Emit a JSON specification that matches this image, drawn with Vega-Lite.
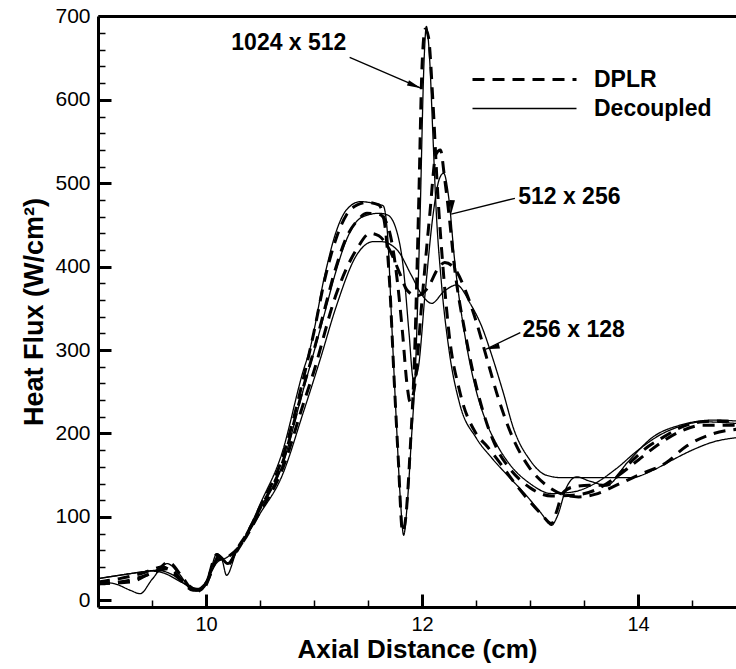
{
  "$schema": "https://vega.github.io/schema/vega-lite/v6.json",
  "width": 638,
  "height": 591,
  "autosize": {"type": "none"},
  "padding": {"left": 98, "top": 16, "right": 0, "bottom": 62},
  "background": "white",
  "config": {
    "view": {"stroke": null},
    "font": "Liberation Sans",
    "axis": {"domainColor": "black", "tickColor": "black", "labelColor": "black", "titleColor": "black", "grid": false, "labelFont": "Liberation Sans", "titleFont": "Liberation Sans"}
  },
  "datasets": {
    "curves": [
      {"grid": "1024 x 512", "method": "DPLR", "x": 9.0, "y": 20}, {"grid": "1024 x 512", "method": "DPLR", "x": 9.2, "y": 22}, {"grid": "1024 x 512", "method": "DPLR", "x": 9.4, "y": 28}, {"grid": "1024 x 512", "method": "DPLR", "x": 9.55, "y": 36}, {"grid": "1024 x 512", "method": "DPLR", "x": 9.65, "y": 46}, {"grid": "1024 x 512", "method": "DPLR", "x": 9.78, "y": 28}, {"grid": "1024 x 512", "method": "DPLR", "x": 9.9, "y": 10}, {"grid": "1024 x 512", "method": "DPLR", "x": 10.0, "y": 20}, {"grid": "1024 x 512", "method": "DPLR", "x": 10.1, "y": 55}, {"grid": "1024 x 512", "method": "DPLR", "x": 10.15, "y": 50}, {"grid": "1024 x 512", "method": "DPLR", "x": 10.2, "y": 42}, {"grid": "1024 x 512", "method": "DPLR", "x": 10.28, "y": 60}, {"grid": "1024 x 512", "method": "DPLR", "x": 10.4, "y": 85}, {"grid": "1024 x 512", "method": "DPLR", "x": 10.5, "y": 112}, {"grid": "1024 x 512", "method": "DPLR", "x": 10.7, "y": 168}, {"grid": "1024 x 512", "method": "DPLR", "x": 10.9, "y": 265}, {"grid": "1024 x 512", "method": "DPLR", "x": 11.0, "y": 322}, {"grid": "1024 x 512", "method": "DPLR", "x": 11.1, "y": 385}, {"grid": "1024 x 512", "method": "DPLR", "x": 11.2, "y": 432}, {"grid": "1024 x 512", "method": "DPLR", "x": 11.3, "y": 462}, {"grid": "1024 x 512", "method": "DPLR", "x": 11.4, "y": 474}, {"grid": "1024 x 512", "method": "DPLR", "x": 11.5, "y": 477}, {"grid": "1024 x 512", "method": "DPLR", "x": 11.6, "y": 474}, {"grid": "1024 x 512", "method": "DPLR", "x": 11.65, "y": 455}, {"grid": "1024 x 512", "method": "DPLR", "x": 11.7, "y": 380}, {"grid": "1024 x 512", "method": "DPLR", "x": 11.74, "y": 270}, {"grid": "1024 x 512", "method": "DPLR", "x": 11.78, "y": 170}, {"grid": "1024 x 512", "method": "DPLR", "x": 11.82, "y": 82}, {"grid": "1024 x 512", "method": "DPLR", "x": 11.85, "y": 100}, {"grid": "1024 x 512", "method": "DPLR", "x": 11.89, "y": 180}, {"grid": "1024 x 512", "method": "DPLR", "x": 11.93, "y": 290}, {"grid": "1024 x 512", "method": "DPLR", "x": 11.97, "y": 480}, {"grid": "1024 x 512", "method": "DPLR", "x": 12.0, "y": 640}, {"grid": "1024 x 512", "method": "DPLR", "x": 12.03, "y": 685}, {"grid": "1024 x 512", "method": "DPLR", "x": 12.06, "y": 675}, {"grid": "1024 x 512", "method": "DPLR", "x": 12.1, "y": 600}, {"grid": "1024 x 512", "method": "DPLR", "x": 12.14, "y": 500}, {"grid": "1024 x 512", "method": "DPLR", "x": 12.2, "y": 390}, {"grid": "1024 x 512", "method": "DPLR", "x": 12.25, "y": 320}, {"grid": "1024 x 512", "method": "DPLR", "x": 12.35, "y": 250}, {"grid": "1024 x 512", "method": "DPLR", "x": 12.5, "y": 200}, {"grid": "1024 x 512", "method": "DPLR", "x": 12.6, "y": 185}, {"grid": "1024 x 512", "method": "DPLR", "x": 12.72, "y": 165}, {"grid": "1024 x 512", "method": "DPLR", "x": 12.85, "y": 142}, {"grid": "1024 x 512", "method": "DPLR", "x": 13.0, "y": 118}, {"grid": "1024 x 512", "method": "DPLR", "x": 13.1, "y": 104}, {"grid": "1024 x 512", "method": "DPLR", "x": 13.2, "y": 92}, {"grid": "1024 x 512", "method": "DPLR", "x": 13.25, "y": 108}, {"grid": "1024 x 512", "method": "DPLR", "x": 13.3, "y": 128}, {"grid": "1024 x 512", "method": "DPLR", "x": 13.4, "y": 136}, {"grid": "1024 x 512", "method": "DPLR", "x": 13.55, "y": 138}, {"grid": "1024 x 512", "method": "DPLR", "x": 13.71, "y": 138}, {"grid": "1024 x 512", "method": "DPLR", "x": 13.85, "y": 155}, {"grid": "1024 x 512", "method": "DPLR", "x": 13.95, "y": 168}, {"grid": "1024 x 512", "method": "DPLR", "x": 14.1, "y": 185}, {"grid": "1024 x 512", "method": "DPLR", "x": 14.2, "y": 193}, {"grid": "1024 x 512", "method": "DPLR", "x": 14.45, "y": 210}, {"grid": "1024 x 512", "method": "DPLR", "x": 14.6, "y": 214}, {"grid": "1024 x 512", "method": "DPLR", "x": 14.76, "y": 215}, {"grid": "1024 x 512", "method": "DPLR", "x": 14.91, "y": 214},

      {"grid": "1024 x 512", "method": "Decoupled", "x": 9.0, "y": 22}, {"grid": "1024 x 512", "method": "Decoupled", "x": 9.15, "y": 20}, {"grid": "1024 x 512", "method": "Decoupled", "x": 9.3, "y": 12}, {"grid": "1024 x 512", "method": "Decoupled", "x": 9.39, "y": 8}, {"grid": "1024 x 512", "method": "Decoupled", "x": 9.5, "y": 25}, {"grid": "1024 x 512", "method": "Decoupled", "x": 9.64, "y": 44}, {"grid": "1024 x 512", "method": "Decoupled", "x": 9.75, "y": 32}, {"grid": "1024 x 512", "method": "Decoupled", "x": 9.88, "y": 12}, {"grid": "1024 x 512", "method": "Decoupled", "x": 9.95, "y": 12}, {"grid": "1024 x 512", "method": "Decoupled", "x": 10.05, "y": 40}, {"grid": "1024 x 512", "method": "Decoupled", "x": 10.1, "y": 56}, {"grid": "1024 x 512", "method": "Decoupled", "x": 10.15, "y": 48}, {"grid": "1024 x 512", "method": "Decoupled", "x": 10.19, "y": 30}, {"grid": "1024 x 512", "method": "Decoupled", "x": 10.28, "y": 58}, {"grid": "1024 x 512", "method": "Decoupled", "x": 10.4, "y": 86}, {"grid": "1024 x 512", "method": "Decoupled", "x": 10.5, "y": 115}, {"grid": "1024 x 512", "method": "Decoupled", "x": 10.7, "y": 175}, {"grid": "1024 x 512", "method": "Decoupled", "x": 10.9, "y": 275}, {"grid": "1024 x 512", "method": "Decoupled", "x": 10.96, "y": 300}, {"grid": "1024 x 512", "method": "Decoupled", "x": 11.1, "y": 390}, {"grid": "1024 x 512", "method": "Decoupled", "x": 11.2, "y": 440}, {"grid": "1024 x 512", "method": "Decoupled", "x": 11.3, "y": 468}, {"grid": "1024 x 512", "method": "Decoupled", "x": 11.43, "y": 478}, {"grid": "1024 x 512", "method": "Decoupled", "x": 11.55, "y": 476}, {"grid": "1024 x 512", "method": "Decoupled", "x": 11.64, "y": 473}, {"grid": "1024 x 512", "method": "Decoupled", "x": 11.68, "y": 440}, {"grid": "1024 x 512", "method": "Decoupled", "x": 11.72, "y": 330}, {"grid": "1024 x 512", "method": "Decoupled", "x": 11.76, "y": 220}, {"grid": "1024 x 512", "method": "Decoupled", "x": 11.8, "y": 120}, {"grid": "1024 x 512", "method": "Decoupled", "x": 11.83, "y": 78}, {"grid": "1024 x 512", "method": "Decoupled", "x": 11.86, "y": 110}, {"grid": "1024 x 512", "method": "Decoupled", "x": 11.9, "y": 190}, {"grid": "1024 x 512", "method": "Decoupled", "x": 11.94, "y": 280}, {"grid": "1024 x 512", "method": "Decoupled", "x": 11.98, "y": 450}, {"grid": "1024 x 512", "method": "Decoupled", "x": 12.02, "y": 650}, {"grid": "1024 x 512", "method": "Decoupled", "x": 12.04, "y": 688}, {"grid": "1024 x 512", "method": "Decoupled", "x": 12.07, "y": 650}, {"grid": "1024 x 512", "method": "Decoupled", "x": 12.1, "y": 560}, {"grid": "1024 x 512", "method": "Decoupled", "x": 12.13, "y": 470}, {"grid": "1024 x 512", "method": "Decoupled", "x": 12.18, "y": 380}, {"grid": "1024 x 512", "method": "Decoupled", "x": 12.25, "y": 300}, {"grid": "1024 x 512", "method": "Decoupled", "x": 12.35, "y": 235}, {"grid": "1024 x 512", "method": "Decoupled", "x": 12.5, "y": 195}, {"grid": "1024 x 512", "method": "Decoupled", "x": 12.65, "y": 170}, {"grid": "1024 x 512", "method": "Decoupled", "x": 12.79, "y": 150}, {"grid": "1024 x 512", "method": "Decoupled", "x": 12.95, "y": 128}, {"grid": "1024 x 512", "method": "Decoupled", "x": 13.1, "y": 105}, {"grid": "1024 x 512", "method": "Decoupled", "x": 13.2, "y": 90}, {"grid": "1024 x 512", "method": "Decoupled", "x": 13.25, "y": 100}, {"grid": "1024 x 512", "method": "Decoupled", "x": 13.34, "y": 136}, {"grid": "1024 x 512", "method": "Decoupled", "x": 13.43, "y": 148}, {"grid": "1024 x 512", "method": "Decoupled", "x": 13.55, "y": 143}, {"grid": "1024 x 512", "method": "Decoupled", "x": 13.71, "y": 138}, {"grid": "1024 x 512", "method": "Decoupled", "x": 13.9, "y": 165}, {"grid": "1024 x 512", "method": "Decoupled", "x": 14.14, "y": 196}, {"grid": "1024 x 512", "method": "Decoupled", "x": 14.39, "y": 210}, {"grid": "1024 x 512", "method": "Decoupled", "x": 14.7, "y": 216}, {"grid": "1024 x 512", "method": "Decoupled", "x": 14.91, "y": 215},

      {"grid": "512 x 256", "method": "DPLR", "x": 9.0, "y": 22}, {"grid": "512 x 256", "method": "DPLR", "x": 9.2, "y": 26}, {"grid": "512 x 256", "method": "DPLR", "x": 9.4, "y": 32}, {"grid": "512 x 256", "method": "DPLR", "x": 9.6, "y": 40}, {"grid": "512 x 256", "method": "DPLR", "x": 9.75, "y": 26}, {"grid": "512 x 256", "method": "DPLR", "x": 9.88, "y": 12}, {"grid": "512 x 256", "method": "DPLR", "x": 9.98, "y": 15}, {"grid": "512 x 256", "method": "DPLR", "x": 10.08, "y": 45}, {"grid": "512 x 256", "method": "DPLR", "x": 10.12, "y": 54}, {"grid": "512 x 256", "method": "DPLR", "x": 10.2, "y": 44}, {"grid": "512 x 256", "method": "DPLR", "x": 10.3, "y": 62}, {"grid": "512 x 256", "method": "DPLR", "x": 10.5, "y": 110}, {"grid": "512 x 256", "method": "DPLR", "x": 10.7, "y": 162}, {"grid": "512 x 256", "method": "DPLR", "x": 10.9, "y": 255}, {"grid": "512 x 256", "method": "DPLR", "x": 11.0, "y": 300}, {"grid": "512 x 256", "method": "DPLR", "x": 11.1, "y": 350}, {"grid": "512 x 256", "method": "DPLR", "x": 11.2, "y": 398}, {"grid": "512 x 256", "method": "DPLR", "x": 11.3, "y": 435}, {"grid": "512 x 256", "method": "DPLR", "x": 11.4, "y": 455}, {"grid": "512 x 256", "method": "DPLR", "x": 11.49, "y": 464}, {"grid": "512 x 256", "method": "DPLR", "x": 11.6, "y": 463}, {"grid": "512 x 256", "method": "DPLR", "x": 11.68, "y": 450}, {"grid": "512 x 256", "method": "DPLR", "x": 11.75, "y": 405}, {"grid": "512 x 256", "method": "DPLR", "x": 11.82, "y": 320}, {"grid": "512 x 256", "method": "DPLR", "x": 11.86, "y": 260}, {"grid": "512 x 256", "method": "DPLR", "x": 11.89, "y": 238}, {"grid": "512 x 256", "method": "DPLR", "x": 11.93, "y": 255}, {"grid": "512 x 256", "method": "DPLR", "x": 12.0, "y": 360}, {"grid": "512 x 256", "method": "DPLR", "x": 12.07, "y": 460}, {"grid": "512 x 256", "method": "DPLR", "x": 12.13, "y": 535}, {"grid": "512 x 256", "method": "DPLR", "x": 12.17, "y": 540}, {"grid": "512 x 256", "method": "DPLR", "x": 12.21, "y": 505}, {"grid": "512 x 256", "method": "DPLR", "x": 12.25, "y": 462}, {"grid": "512 x 256", "method": "DPLR", "x": 12.3, "y": 400}, {"grid": "512 x 256", "method": "DPLR", "x": 12.4, "y": 320}, {"grid": "512 x 256", "method": "DPLR", "x": 12.5, "y": 258}, {"grid": "512 x 256", "method": "DPLR", "x": 12.6, "y": 212}, {"grid": "512 x 256", "method": "DPLR", "x": 12.7, "y": 180}, {"grid": "512 x 256", "method": "DPLR", "x": 12.8, "y": 160}, {"grid": "512 x 256", "method": "DPLR", "x": 13.0, "y": 135}, {"grid": "512 x 256", "method": "DPLR", "x": 13.2, "y": 125}, {"grid": "512 x 256", "method": "DPLR", "x": 13.4, "y": 126}, {"grid": "512 x 256", "method": "DPLR", "x": 13.6, "y": 132}, {"grid": "512 x 256", "method": "DPLR", "x": 13.8, "y": 148}, {"grid": "512 x 256", "method": "DPLR", "x": 14.0, "y": 168}, {"grid": "512 x 256", "method": "DPLR", "x": 14.2, "y": 188}, {"grid": "512 x 256", "method": "DPLR", "x": 14.4, "y": 203}, {"grid": "512 x 256", "method": "DPLR", "x": 14.6, "y": 210}, {"grid": "512 x 256", "method": "DPLR", "x": 14.91, "y": 210},

      {"grid": "512 x 256", "method": "Decoupled", "x": 9.0, "y": 26}, {"grid": "512 x 256", "method": "Decoupled", "x": 9.2, "y": 30}, {"grid": "512 x 256", "method": "Decoupled", "x": 9.4, "y": 34}, {"grid": "512 x 256", "method": "Decoupled", "x": 9.55, "y": 36}, {"grid": "512 x 256", "method": "Decoupled", "x": 9.7, "y": 30}, {"grid": "512 x 256", "method": "Decoupled", "x": 9.85, "y": 16}, {"grid": "512 x 256", "method": "Decoupled", "x": 9.95, "y": 14}, {"grid": "512 x 256", "method": "Decoupled", "x": 10.05, "y": 35}, {"grid": "512 x 256", "method": "Decoupled", "x": 10.12, "y": 52}, {"grid": "512 x 256", "method": "Decoupled", "x": 10.2, "y": 45}, {"grid": "512 x 256", "method": "Decoupled", "x": 10.3, "y": 62}, {"grid": "512 x 256", "method": "Decoupled", "x": 10.5, "y": 110}, {"grid": "512 x 256", "method": "Decoupled", "x": 10.7, "y": 160}, {"grid": "512 x 256", "method": "Decoupled", "x": 10.9, "y": 252}, {"grid": "512 x 256", "method": "Decoupled", "x": 11.0, "y": 298}, {"grid": "512 x 256", "method": "Decoupled", "x": 11.1, "y": 345}, {"grid": "512 x 256", "method": "Decoupled", "x": 11.2, "y": 393}, {"grid": "512 x 256", "method": "Decoupled", "x": 11.3, "y": 432}, {"grid": "512 x 256", "method": "Decoupled", "x": 11.4, "y": 455}, {"grid": "512 x 256", "method": "Decoupled", "x": 11.5, "y": 462}, {"grid": "512 x 256", "method": "Decoupled", "x": 11.6, "y": 464}, {"grid": "512 x 256", "method": "Decoupled", "x": 11.68, "y": 462}, {"grid": "512 x 256", "method": "Decoupled", "x": 11.76, "y": 445}, {"grid": "512 x 256", "method": "Decoupled", "x": 11.83, "y": 395}, {"grid": "512 x 256", "method": "Decoupled", "x": 11.88, "y": 320}, {"grid": "512 x 256", "method": "Decoupled", "x": 11.92, "y": 265}, {"grid": "512 x 256", "method": "Decoupled", "x": 11.96, "y": 275}, {"grid": "512 x 256", "method": "Decoupled", "x": 12.03, "y": 370}, {"grid": "512 x 256", "method": "Decoupled", "x": 12.1, "y": 460}, {"grid": "512 x 256", "method": "Decoupled", "x": 12.16, "y": 505}, {"grid": "512 x 256", "method": "Decoupled", "x": 12.2, "y": 512}, {"grid": "512 x 256", "method": "Decoupled", "x": 12.25, "y": 480}, {"grid": "512 x 256", "method": "Decoupled", "x": 12.3, "y": 410}, {"grid": "512 x 256", "method": "Decoupled", "x": 12.4, "y": 315}, {"grid": "512 x 256", "method": "Decoupled", "x": 12.5, "y": 252}, {"grid": "512 x 256", "method": "Decoupled", "x": 12.6, "y": 212}, {"grid": "512 x 256", "method": "Decoupled", "x": 12.7, "y": 185}, {"grid": "512 x 256", "method": "Decoupled", "x": 12.8, "y": 165}, {"grid": "512 x 256", "method": "Decoupled", "x": 13.0, "y": 140}, {"grid": "512 x 256", "method": "Decoupled", "x": 13.2, "y": 128}, {"grid": "512 x 256", "method": "Decoupled", "x": 13.4, "y": 130}, {"grid": "512 x 256", "method": "Decoupled", "x": 13.6, "y": 140}, {"grid": "512 x 256", "method": "Decoupled", "x": 13.8, "y": 158}, {"grid": "512 x 256", "method": "Decoupled", "x": 14.0, "y": 180}, {"grid": "512 x 256", "method": "Decoupled", "x": 14.2, "y": 198}, {"grid": "512 x 256", "method": "Decoupled", "x": 14.4, "y": 209}, {"grid": "512 x 256", "method": "Decoupled", "x": 14.6, "y": 214}, {"grid": "512 x 256", "method": "Decoupled", "x": 14.91, "y": 212},

      {"grid": "256 x 128", "method": "DPLR", "x": 9.0, "y": 20}, {"grid": "256 x 128", "method": "DPLR", "x": 9.3, "y": 22}, {"grid": "256 x 128", "method": "DPLR", "x": 9.5, "y": 33}, {"grid": "256 x 128", "method": "DPLR", "x": 9.65, "y": 38}, {"grid": "256 x 128", "method": "DPLR", "x": 9.8, "y": 22}, {"grid": "256 x 128", "method": "DPLR", "x": 9.92, "y": 12}, {"grid": "256 x 128", "method": "DPLR", "x": 10.02, "y": 25}, {"grid": "256 x 128", "method": "DPLR", "x": 10.1, "y": 48}, {"grid": "256 x 128", "method": "DPLR", "x": 10.2, "y": 52}, {"grid": "256 x 128", "method": "DPLR", "x": 10.3, "y": 63}, {"grid": "256 x 128", "method": "DPLR", "x": 10.5, "y": 106}, {"grid": "256 x 128", "method": "DPLR", "x": 10.7, "y": 155}, {"grid": "256 x 128", "method": "DPLR", "x": 10.9, "y": 235}, {"grid": "256 x 128", "method": "DPLR", "x": 11.0, "y": 275}, {"grid": "256 x 128", "method": "DPLR", "x": 11.2, "y": 365}, {"grid": "256 x 128", "method": "DPLR", "x": 11.4, "y": 422}, {"grid": "256 x 128", "method": "DPLR", "x": 11.52, "y": 440}, {"grid": "256 x 128", "method": "DPLR", "x": 11.6, "y": 437}, {"grid": "256 x 128", "method": "DPLR", "x": 11.7, "y": 420}, {"grid": "256 x 128", "method": "DPLR", "x": 11.8, "y": 390}, {"grid": "256 x 128", "method": "DPLR", "x": 11.86, "y": 372}, {"grid": "256 x 128", "method": "DPLR", "x": 11.95, "y": 365}, {"grid": "256 x 128", "method": "DPLR", "x": 12.05, "y": 374}, {"grid": "256 x 128", "method": "DPLR", "x": 12.15, "y": 398}, {"grid": "256 x 128", "method": "DPLR", "x": 12.21, "y": 405}, {"grid": "256 x 128", "method": "DPLR", "x": 12.3, "y": 398}, {"grid": "256 x 128", "method": "DPLR", "x": 12.4, "y": 372}, {"grid": "256 x 128", "method": "DPLR", "x": 12.5, "y": 335}, {"grid": "256 x 128", "method": "DPLR", "x": 12.6, "y": 290}, {"grid": "256 x 128", "method": "DPLR", "x": 12.7, "y": 245}, {"grid": "256 x 128", "method": "DPLR", "x": 12.85, "y": 192}, {"grid": "256 x 128", "method": "DPLR", "x": 13.0, "y": 158}, {"grid": "256 x 128", "method": "DPLR", "x": 13.15, "y": 138}, {"grid": "256 x 128", "method": "DPLR", "x": 13.3, "y": 127}, {"grid": "256 x 128", "method": "DPLR", "x": 13.45, "y": 124}, {"grid": "256 x 128", "method": "DPLR", "x": 13.6, "y": 127}, {"grid": "256 x 128", "method": "DPLR", "x": 13.8, "y": 138}, {"grid": "256 x 128", "method": "DPLR", "x": 14.0, "y": 150}, {"grid": "256 x 128", "method": "DPLR", "x": 14.26, "y": 165}, {"grid": "256 x 128", "method": "DPLR", "x": 14.45, "y": 185}, {"grid": "256 x 128", "method": "DPLR", "x": 14.7, "y": 200}, {"grid": "256 x 128", "method": "DPLR", "x": 14.91, "y": 205},

      {"grid": "256 x 128", "method": "Decoupled", "x": 9.0, "y": 26}, {"grid": "256 x 128", "method": "Decoupled", "x": 9.3, "y": 32}, {"grid": "256 x 128", "method": "Decoupled", "x": 9.5, "y": 35}, {"grid": "256 x 128", "method": "Decoupled", "x": 9.6, "y": 33}, {"grid": "256 x 128", "method": "Decoupled", "x": 9.8, "y": 20}, {"grid": "256 x 128", "method": "Decoupled", "x": 9.92, "y": 14}, {"grid": "256 x 128", "method": "Decoupled", "x": 10.0, "y": 22}, {"grid": "256 x 128", "method": "Decoupled", "x": 10.1, "y": 45}, {"grid": "256 x 128", "method": "Decoupled", "x": 10.2, "y": 52}, {"grid": "256 x 128", "method": "Decoupled", "x": 10.3, "y": 64}, {"grid": "256 x 128", "method": "Decoupled", "x": 10.5, "y": 104}, {"grid": "256 x 128", "method": "Decoupled", "x": 10.7, "y": 148}, {"grid": "256 x 128", "method": "Decoupled", "x": 10.9, "y": 225}, {"grid": "256 x 128", "method": "Decoupled", "x": 11.06, "y": 290}, {"grid": "256 x 128", "method": "Decoupled", "x": 11.2, "y": 350}, {"grid": "256 x 128", "method": "Decoupled", "x": 11.4, "y": 415}, {"grid": "256 x 128", "method": "Decoupled", "x": 11.55, "y": 430}, {"grid": "256 x 128", "method": "Decoupled", "x": 11.62, "y": 430}, {"grid": "256 x 128", "method": "Decoupled", "x": 11.77, "y": 420}, {"grid": "256 x 128", "method": "Decoupled", "x": 11.9, "y": 390}, {"grid": "256 x 128", "method": "Decoupled", "x": 12.0, "y": 366}, {"grid": "256 x 128", "method": "Decoupled", "x": 12.09, "y": 356}, {"grid": "256 x 128", "method": "Decoupled", "x": 12.2, "y": 370}, {"grid": "256 x 128", "method": "Decoupled", "x": 12.32, "y": 378}, {"grid": "256 x 128", "method": "Decoupled", "x": 12.45, "y": 355}, {"grid": "256 x 128", "method": "Decoupled", "x": 12.56, "y": 326}, {"grid": "256 x 128", "method": "Decoupled", "x": 12.63, "y": 300}, {"grid": "256 x 128", "method": "Decoupled", "x": 12.75, "y": 250}, {"grid": "256 x 128", "method": "Decoupled", "x": 12.85, "y": 205}, {"grid": "256 x 128", "method": "Decoupled", "x": 13.0, "y": 168}, {"grid": "256 x 128", "method": "Decoupled", "x": 13.15, "y": 150}, {"grid": "256 x 128", "method": "Decoupled", "x": 13.3, "y": 147}, {"grid": "256 x 128", "method": "Decoupled", "x": 13.6, "y": 147}, {"grid": "256 x 128", "method": "Decoupled", "x": 13.93, "y": 147}, {"grid": "256 x 128", "method": "Decoupled", "x": 14.14, "y": 156}, {"grid": "256 x 128", "method": "Decoupled", "x": 14.3, "y": 167}, {"grid": "256 x 128", "method": "Decoupled", "x": 14.5, "y": 180}, {"grid": "256 x 128", "method": "Decoupled", "x": 14.7, "y": 190}, {"grid": "256 x 128", "method": "Decoupled", "x": 14.91, "y": 195}
    ],
    "notes": [
      {"label": "1024 x 512", "side": "left", "textX": 11.3, "textY": 668, "tailX": 11.33, "tailY": 651, "tipX": 11.99, "tipY": 614},
      {"label": "512 x 256", "side": "right", "textX": 12.89, "textY": 483, "tailX": 12.86, "tailY": 482, "tipX": 12.27, "tipY": 463},
      {"label": "256 x 128", "side": "right", "textX": 12.93, "textY": 324, "tailX": 12.91, "tailY": 321, "tipX": 12.59, "tipY": 301}
    ]
  },
  "layer": [
    {
      "data": {"name": "curves"},
      "mark": {"type": "line", "interpolate": "monotone", "color": "black", "clip": true},
      "encoding": {
        "x": {"field": "x", "type": "quantitative", "scale": {"domain": [9, 14.907], "nice": false, "zero": false},
          "axis": {"orient": "bottom", "values": [10, 12, 14], "tickSize": -13, "tickWidth": 3, "domainWidth": 3, "labelFontSize": 20, "labelPadding": 20, "title": "Axial Distance (cm)", "titleFontSize": 26, "titleFontWeight": "bold", "titlePadding": 2}},
        "y": {"field": "y", "type": "quantitative", "scale": {"domain": [-8, 700.5], "nice": false, "zero": false},
          "axis": {"orient": "left", "values": [0, 100, 200, 300, 400, 500, 600, 700], "tickSize": -13, "tickWidth": 3, "domainWidth": 3, "labelFontSize": 21, "labelPadding": 21, "title": "Heat Flux (W/cm²)", "titleFontSize": 27, "titleFontWeight": "bold", "titlePadding": 6}},
        "detail": {"field": "grid"},
        "strokeDash": {"field": "method", "type": "nominal", "scale": {"domain": ["DPLR", "Decoupled"], "range": [[12, 8], [1, 0]]},
          "legend": {"title": null, "orient": "none", "legendX": 415, "legendY": 52, "padding": 0, "rowPadding": 5, "symbolType": "M-10.4,0L10.4,0", "symbolSize": 100, "symbolStrokeColor": "black", "symbolFillColor": "transparent", "labelFontSize": 23, "labelFontWeight": "bold", "labelFont": "Liberation Sans", "labelColor": "black", "labelOffset": 58}},
        "strokeWidth": {"field": "method", "type": "nominal", "scale": {"domain": ["DPLR", "Decoupled"], "range": [3, 1.3]},
          "legend": {"title": null, "orient": "none", "legendX": 415, "legendY": 52, "padding": 0, "rowPadding": 5, "symbolType": "M-10.4,0L10.4,0", "symbolSize": 100, "symbolStrokeColor": "black", "symbolFillColor": "transparent", "labelFontSize": 23, "labelFontWeight": "bold", "labelFont": "Liberation Sans", "labelColor": "black", "labelOffset": 58}}
      }
    },
    {
      "data": {"name": "notes"},
      "transform": [{"filter": "datum.side === 'left'"}],
      "mark": {"type": "text", "align": "right", "baseline": "middle", "fontSize": 23, "fontWeight": "bold", "font": "Liberation Sans", "color": "black"},
      "encoding": {
        "x": {"field": "textX", "type": "quantitative", "axis": {"orient": "bottom", "values": [9.5, 10.5, 11, 11.5, 12.5, 13, 13.5, 14.5], "tickSize": -7, "tickWidth": 1.5, "labels": false, "domain": false, "title": null}},
        "y": {"field": "textY", "type": "quantitative", "axis": {"orient": "left", "values": [20, 40, 60, 80, 120, 140, 160, 180, 220, 240, 260, 280, 320, 340, 360, 380, 420, 440, 460, 480, 520, 540, 560, 580, 620, 640, 660, 680], "tickSize": -7, "tickWidth": 1.5, "labels": false, "domain": false, "title": null}},
        "text": {"field": "label"}
      }
    },
    {
      "data": {"name": "notes"},
      "transform": [{"filter": "datum.side === 'right'"}],
      "mark": {"type": "text", "align": "left", "baseline": "middle", "fontSize": 23, "fontWeight": "bold", "font": "Liberation Sans", "color": "black"},
      "encoding": {
        "x": {"field": "textX", "type": "quantitative", "axis": null},
        "y": {"field": "textY", "type": "quantitative", "axis": null},
        "text": {"field": "label"}
      }
    },
    {
      "data": {"name": "notes"},
      "mark": {"type": "rule", "color": "black", "strokeWidth": 1.3},
      "encoding": {
        "x": {"field": "tailX", "type": "quantitative", "axis": {"orient": "top", "ticks": false, "labels": false, "domain": true, "domainWidth": 3, "domainColor": "black", "title": null}},
        "y": {"field": "tailY", "type": "quantitative", "axis": null},
        "x2": {"field": "tipX"},
        "y2": {"field": "tipY"}
      }
    },
    {
      "data": {"name": "notes"},
      "mark": {"type": "point", "filled": true, "color": "black", "opacity": 1, "size": 196, "shape": "M0,0L-2,-0.4L-2,0.4Z"},
      "encoding": {
        "x": {"field": "tipX", "type": "quantitative", "axis": null},
        "y": {"field": "tipY", "type": "quantitative", "axis": null},
        "angle": {"field": "label", "type": "nominal", "scale": {"domain": ["1024 x 512", "512 x 256", "256 x 128"], "range": [22, 166, 153]}, "legend": null}
      }
    }
  ],
  "resolve": {"axis": {"x": "independent", "y": "independent"}}
}
